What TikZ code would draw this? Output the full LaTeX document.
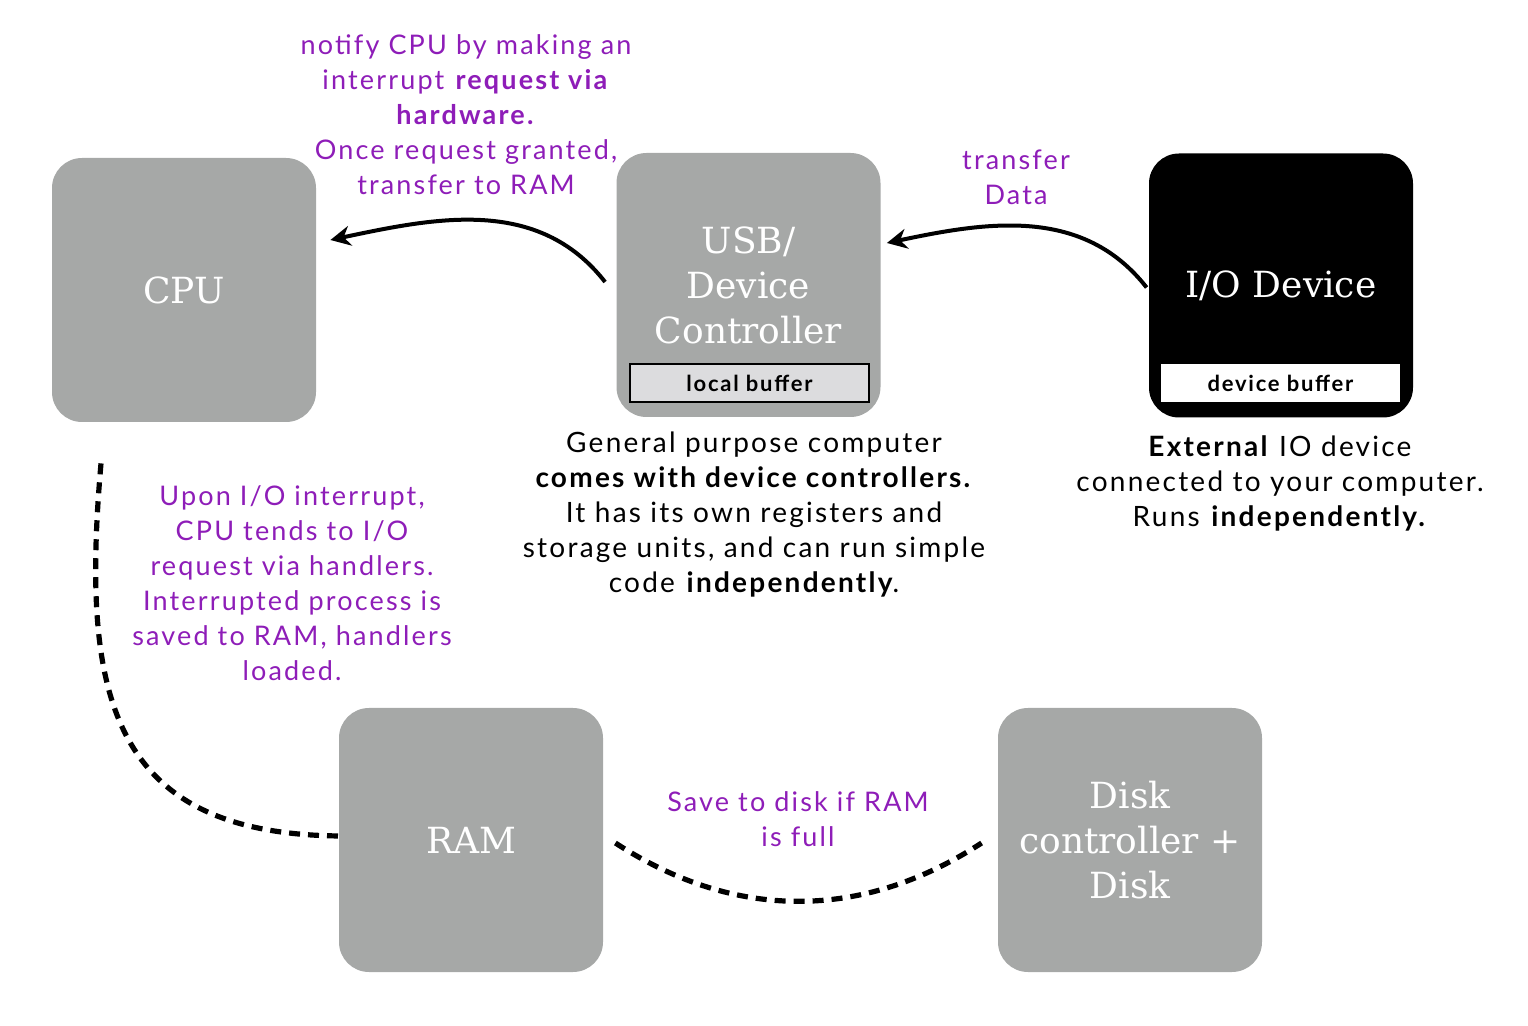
\documentclass[tikz,border=0pt]{standalone}
\usepackage{fontspec}
\setmainfont{Lato}[LetterSpace=8]
\newfontfamily\titlefont{DejaVu Serif}
\usetikzlibrary{arrows.meta, positioning}

\definecolor{boxgray}{HTML}{A6A8A7}
\definecolor{bufgray}{HTML}{DCDCDE}
\definecolor{notepurple}{HTML}{8E1DB8}

\tikzset{
  unit/.style={rounded corners=15pt, fill=boxgray, minimum width=132pt,
    minimum height=132pt, text=white, font=\titlefont\fontsize{18}{22.5}\selectfont,
    align=center, inner sep=0pt},
  buffer/.style={minimum width=119.5pt, minimum height=19pt, inner sep=0pt,
    font=\bfseries\fontsize{11}{13}\selectfont},
  note/.style={align=center, text=notepurple, font=\fontsize{13.5}{17.5}\selectfont},
  desc/.style={align=center, font=\fontsize{14}{17.5}\selectfont},
  flow/.style={-{Stealth[length=10pt,width=10pt]}, line width=2pt},
  link/.style={line width=2.6pt, dash pattern=on 5.5pt off 4pt}
}

\begin{document}
\begin{tikzpicture}[x=0.5pt,y=-0.5pt]
        \useasboundingbox (0,0) rectangle (1528,1026);

        % Einheiten
        \node[unit] (cpu) at (184,290) {CPU};
        \node[unit] (usb) at (748.5,285) {USB/\\Device\\Controller};
        \node[unit, fill=black] (io) at (1281,285.5) {I/O Device};
        \node[unit] (ram) at (471,840) {RAM};
        \node[unit] (disk) at (1130,840) {Disk\\controller +\\Disk};

        % Puffer
        \node[buffer, fill=bufgray, draw=black, line width=1pt] (localbuf) at (749.5,383.5) {local buffer};
        \node[buffer, fill=white] (devbuf) at (1280.5,383.5) {device buffer};

        % Verbindungen
        \draw[flow] ([xshift=-5.5pt,yshift=1.5pt]usb.west) to[out=128,in=12] ([xshift=7pt,yshift=25pt]cpu.east);
        \draw[flow] ([xshift=-1pt,yshift=-1pt]io.west) to[out=128,in=12] ([xshift=3pt,yshift=21pt]usb.east);
        \draw[link] ([xshift=-41.5pt,yshift=-20.5pt]cpu.south) to[out=-95,in=180,looseness=1.35] ([xshift=3pt,yshift=2pt]ram.west);
        \draw[link] ([xshift=6pt,yshift=-1.5pt]ram.east) to[out=-33,in=-147] ([xshift=-8pt,yshift=-1.5pt]disk.west);

        % Beschriftungen
        \node[note] (notify) at (466,115) {notify CPU by making an\\interrupt \textbf{request via}\\\textbf{hardware.}\\Once request granted,\\transfer to RAM};
        \node[note] (transfer) at (1016,177) {transfer\\Data};
        \node[note] (upon) at (292,583) {Upon I/O interrupt,\\CPU tends to I/O\\request via handlers.\\Interrupted process is\\saved to RAM, handlers\\loaded.};
        \node[note] (save) at (798,819) {Save to disk if RAM\\is full};
        \node[desc] (general) at (754,515) {General purpose computer\\\textbf{comes with device controllers.}\\It has its own registers and\\storage units, and can run simple\\code \textbf{independently}.};
        \node[desc] (external) at (1280,483) {\textbf{External} IO device\\connected to your computer.\\Runs \textbf{independently.}};
      \end{tikzpicture}
\end{document}
